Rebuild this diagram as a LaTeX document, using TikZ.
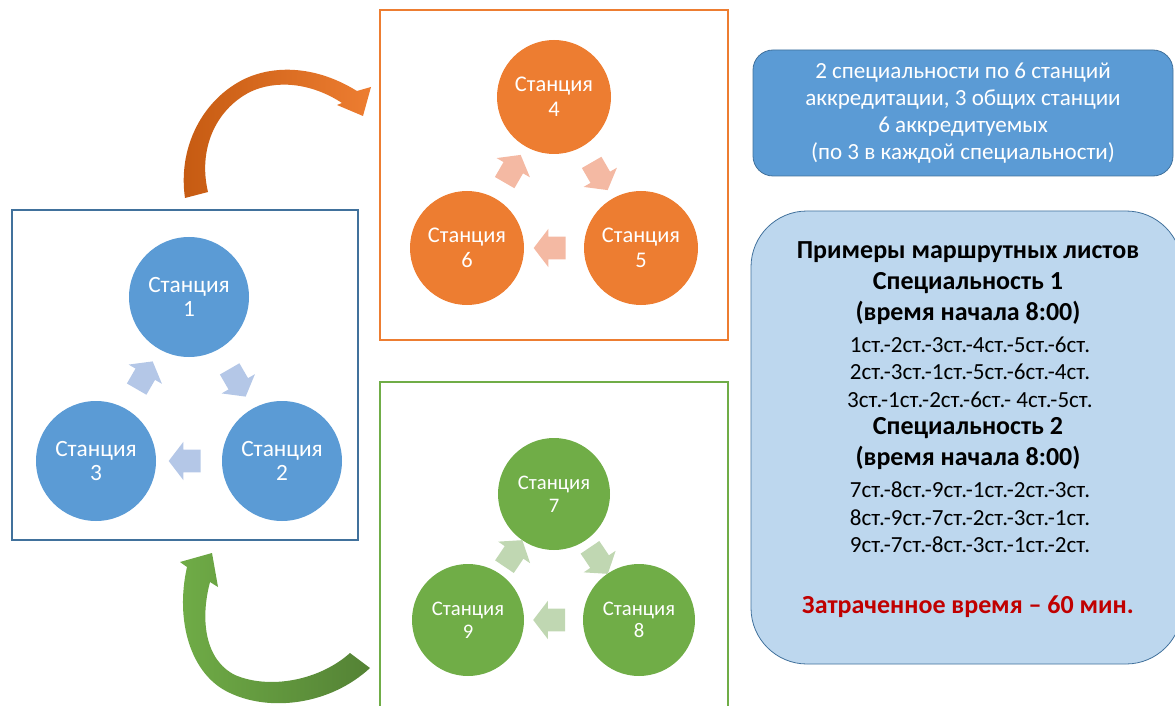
\documentclass[tikz,border=0pt]{standalone}
\usepackage{fontspec}
\setmainfont{Carlito}
\usetikzlibrary{shapes.arrows,calc}
\definecolor{bluest}{RGB}{91,155,213}
\definecolor{blueframe}{RGB}{65,113,156}
\definecolor{bluelt}{RGB}{180,199,231}
\definecolor{bluepale}{RGB}{189,215,238}
\definecolor{orgst}{RGB}{237,125,49}
\definecolor{orgdark}{RGB}{197,90,17}
\definecolor{orglt}{RGB}{244,185,163}
\definecolor{grnst}{RGB}{112,173,71}
\definecolor{grndark}{RGB}{84,130,53}
\definecolor{grnlt}{RGB}{192,215,178}
\definecolor{redtxt}{RGB}{192,0,0}
\begin{document}
\begin{tikzpicture}[x=0.75pt,y=-0.75pt,
  station/.style={circle, fill=#1, text=white, align=center, inner sep=0pt},
  cyc/.style={single arrow, fill=#1, minimum height=24pt, inner xsep=0pt, inner ysep=8.25pt, single arrow head extend=6pt, single arrow tip angle=105},
  panel/.style={draw=#1, line width=2pt},
  hdr/.style={font=\fontsize{19.5}{20}\selectfont\bfseries},
  rte/.style={font=\fontsize{17.3}{18}\selectfont}]
\useasboundingbox (0,0) rectangle (1175,706);
\clip (0,0) rectangle (1175,706);
% blue group
\draw[panel=blueframe] (12,210) rectangle (358,540);
\node[station=bluest, minimum size=90pt, font=\fontsize{17.5}{18}\selectfont] (s1) at (189,297) {Станция\\1};
\node[station=bluest, minimum size=90pt, font=\fontsize{17.5}{18}\selectfont] (s2) at (282,461) {Станция\\2};
\node[station=bluest, minimum size=90pt, font=\fontsize{17.5}{18}\selectfont] (s3) at (96,461) {Станция\\3};
\node[cyc=bluelt, rotate=-60] (a12) at ($(s1)!0.5!(s2)$) {};
\node[cyc=bluelt, rotate=180] (a23) at ($(s2)!0.5!(s3)$) {};
\node[cyc=bluelt, rotate=60] (a31) at ($(s3)!0.5!(s1)$) {};
% orange group
\draw[panel=orgst] (380,10) rectangle (728,340);
\node[station=orgst, minimum size=85.5pt, font=\fontsize{16.8}{18.5}\selectfont] (s4) at (554,97) {Станция\\4};
\node[station=orgst, minimum size=85.5pt, font=\fontsize{16.8}{18.5}\selectfont] (s5) at (641,248) {Станция\\5};
\node[station=orgst, minimum size=85.5pt, font=\fontsize{16.8}{18.5}\selectfont] (s6) at (467,248) {Станция\\6};
\node[cyc=orglt, rotate=-60] (a45) at ($(s4)!0.5!(s5)$) {};
\node[cyc=orglt, rotate=180] (a56) at ($(s5)!0.5!(s6)$) {};
\node[cyc=orglt, rotate=60] (a64) at ($(s6)!0.5!(s4)$) {};
% green group
\draw[panel=grnst] (380,382) rectangle (728,720);
\node[station=grnst, minimum size=84pt, font=\fontsize{15.5}{17}\selectfont] (s7) at (554,494) {Станция\\7};
\node[station=grnst, minimum size=84pt, font=\fontsize{15.5}{17}\selectfont] (s8) at (639,620) {Станция\\8};
\node[station=grnst, minimum size=84pt, font=\fontsize{15.5}{17}\selectfont] (s9) at (468,620) {Станция\\9};
\node[cyc=grnlt, rotate=-56] (a78) at ($(s7)!0.5!(s8)$) {};
\node[cyc=grnlt, rotate=180] (a89) at ($(s8)!0.5!(s9)$) {};
\node[cyc=grnlt, rotate=56] (a97) at ($(s9)!0.5!(s7)$) {};
% curved arrows
\shade[left color=orgdark, right color=orgst] (185,198) .. controls (178,150) and (200,105) .. (237,83)
  .. controls (265,66) and (310,62) .. (357,91) -- (371,87) -- (363,116) -- (337,105) -- (342,103)
  .. controls (310,82) and (275,80) .. (250,92) .. controls (215,110) and (198,150) .. (208,192) -- cycle;
\shade[left color=grnst, right color=grndark] (187,567) -- (180,562) -- (212,553) -- (218,587) -- (210,582)
  .. controls (200,620) and (205,660) .. (235,675) .. controls (270,690) and (320,680) .. (350,653) -- (370,668)
  .. controls (330,705) and (270,712) .. (230,693) .. controls (190,675) and (175,620) .. (187,567) -- cycle;
% info boxes
\node[fill=bluest, draw=blueframe, line width=0.6pt, rounded corners=15pt, minimum width=315pt, minimum height=94.5pt,
  text=white, align=center, font=\fontsize{17.3}{20.25}\selectfont] (info) at (963,113)
  {2 специальности по 6 станций\\аккредитации, 3 общих станции\\6 аккредитуемых\\(по 3 в каждой специальности)};
\draw[fill=bluepale, draw=blueframe, line width=0.6pt, rounded corners=42pt] (751,211) rectangle (1182,664);
\node[hdr] (l1) at (968,252) {Примеры маршрутных листов};
\node[hdr] (l2) at (968,283) {Специальность 1};
\node[hdr] (l3) at (968,313) {(время начала 8:00)};
\node[rte] (l4) at (970,345) {1ст.-2ст.-3ст.-4ст.-5ст.-6ст.};
\node[rte] (l5) at (970,372) {2ст.-3ст.-1ст.-5ст.-6ст.-4ст.};
\node[rte] (l6) at (970,400) {3ст.-1ст.-2ст.-6ст.- 4ст.-5ст.};
\node[hdr] (l7) at (968,428) {Специальность 2};
\node[hdr] (l8) at (968,458) {(время начала 8:00)};
\node[rte] (l9) at (970,490) {7ст.-8ст.-9ст.-1ст.-2ст.-3ст.};
\node[rte] (l10) at (970,518) {8ст.-9ст.-7ст.-2ст.-3ст.-1ст.};
\node[rte] (l11) at (970,545) {9ст.-7ст.-8ст.-3ст.-1ст.-2ст.};
\node[hdr, text=redtxt] (l12) at (968,607) {Затраченное время – 60 мин.};
\end{tikzpicture}
\end{document}
